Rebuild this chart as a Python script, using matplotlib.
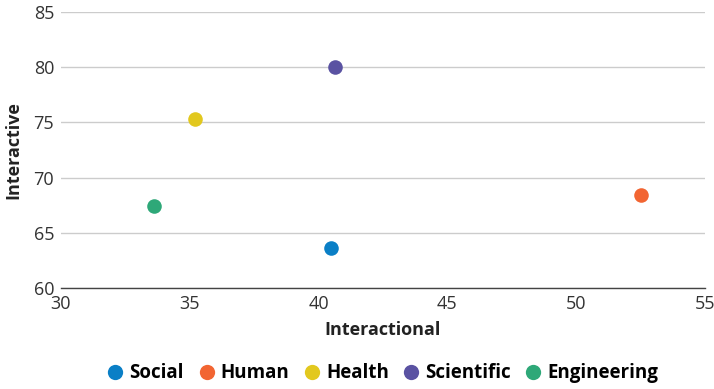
import matplotlib
matplotlib.use("Agg")
import matplotlib.pyplot as plt
from matplotlib.lines import Line2D

plt.rcParams['font.family'] = ['Open Sans', 'DejaVu Sans']

categories = ["Social", "Human", "Health", "Scientific", "Engineering"]
interactional = [40.5, 52.5, 35.2, 40.65, 33.6]
interactive = [63.6, 68.4, 75.35, 80.0, 67.4]
colors = ["#0a7fc6", "#f26532", "#e2c81e", "#5a52a2", "#2ea878"]

x_ticks = [30, 35, 40, 45, 50, 55]
y_ticks = [60, 65, 70, 75, 80, 85]

fig = plt.figure(figsize=(7.14, 3.89), dpi=100)
ax = fig.add_axes([0.0854, 0.2596, 0.902, 0.7094])

for name, xv, yv, c in zip(categories, interactional, interactive, colors):
    ax.scatter(xv, yv, s=110, color=c, zorder=3, linewidths=0)

ax.set_xlim(30, 55)
ax.set_ylim(60, 85)
ax.set_xticks(x_ticks)
ax.set_yticks(y_ticks)
ax.grid(axis='y', color='#cccccc', linewidth=1)
ax.grid(axis='x', visible=False)
for s in ['top', 'right', 'left']:
    ax.spines[s].set_visible(False)
ax.spines['bottom'].set_color('#444444')
ax.spines['bottom'].set_linewidth(1)
ax.tick_params(length=0, labelsize=13, labelcolor='#333333')
ax.tick_params(axis='x', pad=5)
ax.tick_params(axis='y', pad=5)

ax.set_xlabel("Interactional", fontsize=13, fontweight='bold', color='#222222', labelpad=6)
ax.set_ylabel("Interactive", fontsize=13, fontweight='bold', color='#222222', labelpad=8)

handles = [Line2D([], [], marker='o', linestyle='', markersize=11, color=c,
                  markeredgewidth=0) for c in colors]
fig.legend(handles, categories, loc='center', bbox_to_anchor=(0.536, 0.04), ncol=5,
           frameon=False, handlelength=0.9, handletextpad=0.3, columnspacing=0.75,
           prop={'weight': 'bold', 'size': 13.5})

fig.savefig("out.png", dpi=100)
